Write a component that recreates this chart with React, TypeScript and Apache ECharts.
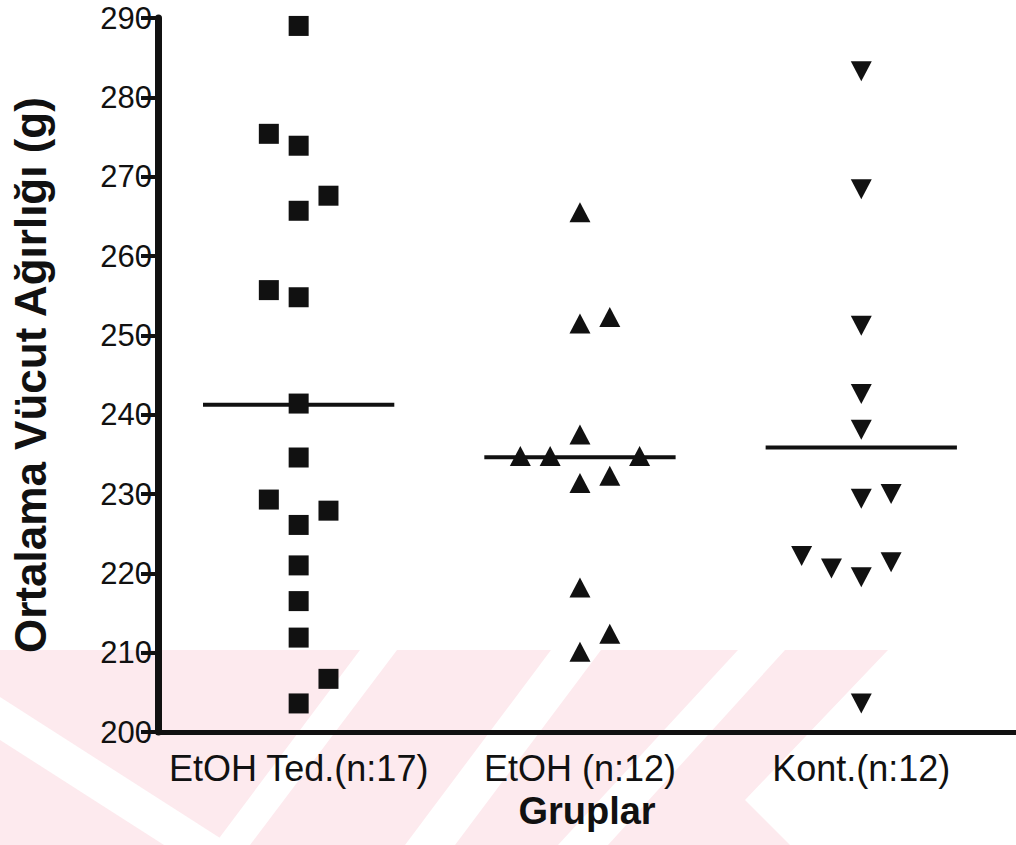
import React, { useEffect, useRef } from "react";
import * as echarts from "echarts";

const categories = ["EtOH Ted.(n:17)", "EtOH (n:12)", "Kont.(n:12)"];

// body weight values (g) per group, with horizontal jitter slot (dot-plot columns)
const etohTedValues = [289.0, 275.4, 273.9, 267.6, 265.7, 255.7, 254.8, 241.4, 234.6, 229.3, 227.9, 226.1, 221.0, 216.5, 211.9, 206.7, 203.6];
const etohTedSlots = [0, -1, 0, 1, 0, -1, 0, 0, 0, -1, 1, 0, 0, 0, 0, 1, 0];

const etohValues = [265.5, 252.3, 251.5, 237.5, 234.8, 234.8, 234.8, 232.3, 231.4, 218.2, 212.4, 210.1];
const etohSlots = [0, 1, 0, 0, -2, -1, 2, 1, 0, 0, 1, 0];

const kontValues = [283.3, 268.4, 251.2, 242.6, 238.1, 230.0, 229.4, 222.2, 221.4, 220.6, 219.5, 203.6];
const kontSlots = [0, 0, 0, 0, 0, 1, 0, -2, 1, -1, 0, 0];

const yTicks = [200, 210, 220, 230, 240, 250, 260, 270, 280, 290];

const SLOT = 0.106; // jitter step in category units
const HALF = 0.34; // half width of mean line

const mean = (a: number[]) => a.reduce((s, v) => s + v, 0) / a.length;

const pts = (vals: number[], slots: number[], g: number) =>
  vals.map((v, i) => [g + slots[i] * SLOT, v]);

export default function App() {
  const ref = useRef<HTMLDivElement>(null);
  useEffect(() => {
    document.body.style.margin = "0";
    const chart = echarts.init(ref.current!, null, { renderer: "svg" });
    const ink = "#111111";
    const pink = "#fdeaee";
    const font = "'Liberation Sans', Arial, sans-serif";
    const groups = [
      { vals: etohTedValues, slots: etohTedSlots, symbol: "rect", size: [20, 20], rot: 0 },
      { vals: etohValues, slots: etohSlots, symbol: "triangle", size: [21, 20], rot: 0 },
      { vals: kontValues, slots: kontSlots, symbol: "triangle", size: [21, 20], rot: 180 },
    ];
    const series: any[] = [];
    groups.forEach((g, gi) => {
      series.push({
        type: "scatter",
        name: categories[gi],
        data: pts(g.vals, g.slots, gi),
        symbol: g.symbol,
        symbolSize: g.size,
        symbolRotate: g.rot,
        itemStyle: { color: ink, opacity: 1 },
        z: 3,
      });
      const m = mean(g.vals);
      series.push({
        type: "line",
        data: [
          [gi - HALF, m],
          [gi + HALF, m],
        ],
        symbol: "none",
        lineStyle: { color: ink, width: 4 },
        z: 2,
      });
    });
    const white = "#ffffff";
    const poly = (points: number[][], fill: string) => ({
      type: "polygon",
      silent: true,
      z: -10,
      shape: { points },
      style: { fill },
    });
    chart.setOption({
      animation: false,
      backgroundColor: "#ffffff",
      graphic: [
        poly([[0, 650], [888, 650], [745, 800], [790, 845], [0, 845]], pink),
        poly([[0, 697], [231, 845], [164, 845], [0, 740]], white),
        poly([[360, 650], [397, 650], [250, 845], [214, 845]], white),
        poly([[551, 650], [601, 650], [455, 845], [405, 845]], white),
        poly([[738, 650], [785, 650], [608, 845], [558, 845]], white),
      ],
      grid: { left: 151, right: 0, top: 18, bottom: 113, containLabel: false },
      xAxis: {
        type: "value",
        min: -0.5,
        max: 2.55,
        interval: 0.5,
        name: "Gruplar",
        nameLocation: "middle",
        nameGap: 60,
        nameTextStyle: { color: ink, fontSize: 38, fontWeight: "bold", fontFamily: font },
        axisLine: { show: true, onZero: false, lineStyle: { color: ink, width: 5 } },
        axisTick: { show: false },
        splitLine: { show: false },
        axisLabel: {
          showMinLabel: false,
          showMaxLabel: false,
          margin: 18,
          color: ink,
          fontSize: 36,
          fontFamily: font,
          formatter: (v: number) => (Number.isInteger(v) && v >= 0 && v < categories.length ? categories[v] : ""),
        },
      },
      yAxis: {
        type: "value",
        min: yTicks[0],
        max: yTicks[yTicks.length - 1],
        interval: 10,
        name: "Ortalama Vücut Ağırlığı (g)",
        nameLocation: "middle",
        nameRotate: 90,
        nameGap: 106,
        nameTextStyle: { color: ink, fontSize: 44, fontWeight: "bold", fontFamily: font },
        axisLine: { show: true, onZero: false, lineStyle: { color: ink, width: 7 } },
        axisTick: { show: true, length: 17, lineStyle: { color: ink, width: 4 } },
        splitLine: { show: false },
        axisLabel: { color: ink, fontSize: 31, lineHeight: 30, fontFamily: font, margin: 6 },
      },
      series,
    });
    return () => chart.dispose();
  }, []);
  return <div ref={ref} style={{ width: 1016, height: 845 }} />;
}
